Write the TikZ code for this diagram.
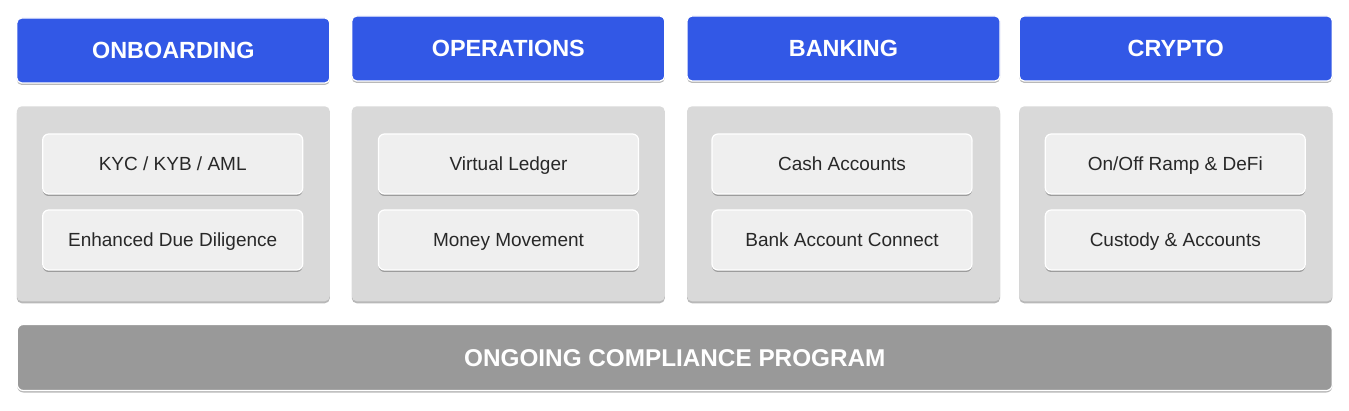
\documentclass[tikz,border=0pt]{standalone}
\usepackage{fontspec}
\setmainfont{Liberation Sans}
\usetikzlibrary{shadows}
\definecolor{hdrblue}{RGB}{50,88,230}
\definecolor{panelgray}{RGB}{217,217,217}
\definecolor{itemgray}{RGB}{239,239,239}
\definecolor{bargray}{RGB}{153,153,153}
\definecolor{itemtext}{RGB}{40,40,40}
\tikzset{
  softshadow/.style={drop shadow={shadow xshift=0pt, shadow yshift=-2pt, opacity=0.28, fill=black}},
  header/.style={rectangle, rounded corners=5pt, fill=hdrblue, draw=white, line width=1.2pt,
    minimum width=313pt, minimum height=65pt, softshadow,
    text=white, font=\bfseries\fontsize{23.4}{28}\selectfont, inner sep=0pt,
    text height=16.8pt, text depth=0pt},
  panel/.style={rectangle, rounded corners=5pt, fill=panelgray,
    minimum width=313pt, minimum height=195pt, softshadow, inner sep=0pt},
  item/.style={rectangle, rounded corners=6pt, fill=itemgray, draw=white, line width=1.2pt,
    minimum width=260pt, minimum height=60pt, softshadow,
    text=itemtext, font=\fontsize{19}{23}\selectfont, inner sep=0pt,
    text height=13.7pt, text depth=0pt},
  bar/.style={rectangle, rounded corners=6pt, fill=bargray, draw=white, line width=1.2pt,
    minimum width=1315pt, minimum height=66pt, softshadow,
    text=white, font=\bfseries\fontsize{24.3}{28}\selectfont, inner sep=0pt,
    text height=17.5pt, text depth=0pt}
}
\begin{document}
\begin{tikzpicture}[x=1pt,y=-1pt]
\useasboundingbox (0,0) rectangle (1349,411);
% headers
\node[header] (h1) at (173.3,50.5) {ONBOARDING};
\node[header] (h2) at (508.3,48.5) {OPERATIONS};
\node[header] (h3) at (843.5,48.5) {BANKING};
\node[header] (h4) at (1175.8,48.5) {CRYPTO};
% panels
\node[panel] (p1) at (173.3,203.8) {};
\node[panel] (p2) at (508.3,203.8) {};
\node[panel] (p3) at (843.5,203.8) {};
\node[panel] (p4) at (1175.8,203.8) {};
% items
\node[item] (a1) at (172.7,164) {KYC / KYB / AML};
\node[item] (a2) at (172.7,240) {Enhanced Due Diligence};
\node[item] (b1) at (508.5,164) {Virtual Ledger};
\node[item] (b2) at (508.5,240) {Money Movement};
\node[item] (c1) at (842,164) {Cash Accounts};
\node[item] (c2) at (842,240) {Bank Account Connect};
\node[item] (d1) at (1175.3,164) {On/Off Ramp \& DeFi};
\node[item] (d2) at (1175.3,240) {Custody \& Accounts};
% bottom bar
\node[bar] (bar) at (674.8,357.5) {ONGOING COMPLIANCE PROGRAM};
\end{tikzpicture}
\end{document}
